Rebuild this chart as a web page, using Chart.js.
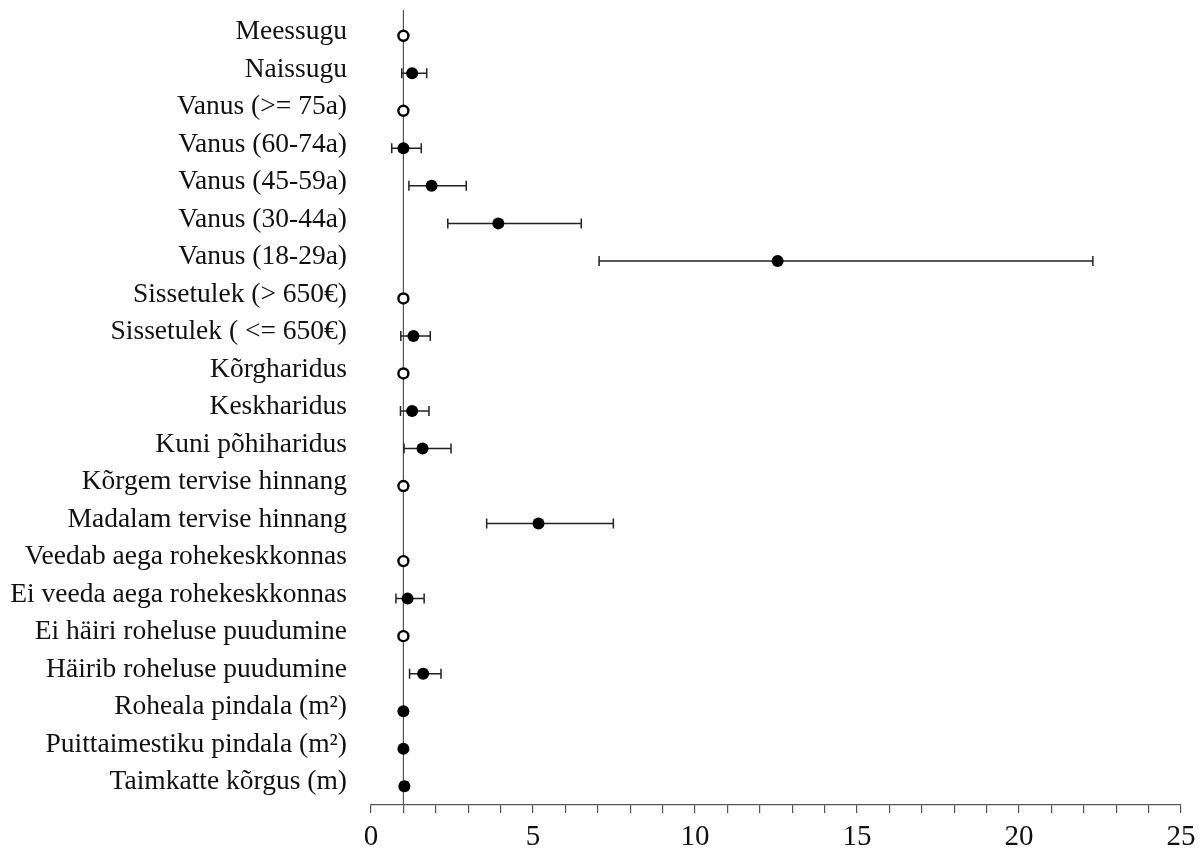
<!DOCTYPE html>
<html>
<head>
<meta charset="utf-8">
<script src="https://cdn.jsdelivr.net/npm/chart.js@4"></script>
<style>
  html, body { margin: 0; padding: 0; background: #fff; }
  #holder { width: 1203px; height: 850px; }
</style>
</head>
<body>
<div id="holder"><canvas id="myChart"></canvas></div>
<script>
// rows, top to bottom
const categories = [
    'Meessugu', 'Naissugu', 'Vanus (>= 75a)', 'Vanus (60-74a)', 'Vanus (45-59a)',
    'Vanus (30-44a)', 'Vanus (18-29a)', 'Sissetulek (> 650€)', 'Sissetulek ( <= 650€)',
    'Kõrgharidus', 'Keskharidus', 'Kuni põhiharidus', 'Kõrgem tervise hinnang',
    'Madalam tervise hinnang', 'Veedab aega rohekeskkonnas', 'Ei veeda aega rohekeskkonnas',
    'Ei häiri roheluse puudumine', 'Häirib roheluse puudumine', 'Roheala pindala (m²)',
    'Puittaimestiku pindala (m²)', 'Taimkatte kõrgus (m)'
];
const estimates = [1, 1.27, 1, 1.00, 1.87, 3.93, 12.55, 1, 1.31, 1, 1.27, 1.59, 1, 5.17, 1, 1.13, 1, 1.61, 1.00, 1.00, 1.03];
const lower =     [null, 0.95, null, 0.64, 1.17, 2.37, 7.04, null, 0.92, null, 0.91, 1.02, null, 3.57, null, 0.77, null, 1.19, 0.99, 0.99, 0.93];
const upper =     [null, 1.72, null, 1.55, 2.94, 6.49, 22.28, null, 1.83, null, 1.79, 2.47, null, 7.48, null, 1.64, null, 2.16, 1.01, 1.01, 1.13];
const isReference = [true, false, true, false, false, false, false, true, false, true, false, false, true, false, true, false, true, false, false, false, false];
const xTicks = [0, 5, 10, 15, 20, 25];
const refValue = 1;

const fontFamily = '"Liberation Serif", "Times New Roman", serif';

const refPoints = [];
const estPoints = [];
estimates.forEach((v, i) => {
    if (isReference[i]) refPoints.push({ x: v, y: i });
    else estPoints.push({ x: v, y: i });
});

// error bars + reference line, drawn before the points
const errorBars = {
    id: 'errorBars',
    beforeDatasetsDraw(chart) {
        const c = chart.ctx;
        const xs = chart.scales.x;
        const ys = chart.scales.y;
        const area = chart.chartArea;
        c.save();
        // vertical line at 1
        c.strokeStyle = '#555';
        c.lineWidth = 1.2;
        const rx = xs.getPixelForValue(refValue);
        c.beginPath();
        c.moveTo(rx, area.top - 7);
        c.lineTo(rx, area.bottom);
        c.stroke();

        c.strokeStyle = '#222';
        c.lineWidth = 1.5;
        for (let i = 0; i < estimates.length; i++) {
            if (lower[i] == null) continue;
            const y = ys.getPixelForValue(i);
            const x1 = xs.getPixelForValue(lower[i]);
            const x2 = xs.getPixelForValue(upper[i]);
            c.beginPath();
            c.moveTo(x1, y); c.lineTo(x2, y);
            c.moveTo(x1, y - 5); c.lineTo(x1, y + 5);
            c.moveTo(x2, y - 5); c.lineTo(x2, y + 5);
            c.stroke();
        }
        c.restore();
    }
};

const ctx = document.getElementById('myChart').getContext('2d');
const myChart = new Chart(ctx, {
    type: 'scatter',
    data: {
        datasets: [
            {
                label: 'Võrdlusgrupp',
                data: refPoints,
                pointRadius: 5,
                pointBorderWidth: 2.4,
                pointBackgroundColor: '#fff',
                pointBorderColor: '#000'
            },
            {
                label: 'OR',
                data: estPoints,
                pointRadius: 6,
                pointBorderWidth: 0,
                pointBackgroundColor: '#000',
                pointBorderColor: '#000'
            }
        ]
    },
    options: {
        responsive: true,
        maintainAspectRatio: false,
        animation: false,
        layout: { padding: { top: 17, right: 22, left: 0, bottom: 0 } },
        plugins: { legend: { display: false }, tooltip: { enabled: false } },
        scales: {
            x: {
                type: 'linear',
                min: 0,
                max: 25,
                afterFit: (scale) => { scale.height = 45; },
                afterBuildTicks: (scale) => {
                    scale.ticks = Array.from({ length: 26 }, (_, i) => ({ value: i }));
                },
                grid: { drawOnChartArea: false, drawTicks: true, tickLength: 8, color: '#555', lineWidth: 1.2 },
                border: { display: true, color: '#555', width: 1.2 },
                ticks: {
                    autoSkip: false,
                    maxRotation: 0,
                    padding: 7,
                    color: '#111',
                    font: { family: fontFamily, size: 29 },
                    callback: (v) => xTicks.includes(v) ? String(v) : ''
                }
            },
            y: {
                type: 'linear',
                min: -0.5,
                max: categories.length - 0.5,
                reverse: true,
                afterFit: (scale) => {
                    scale.width = 371;
                    scale.paddingTop = 0;
                    scale.paddingBottom = 0;
                },
                afterBuildTicks: (scale) => {
                    scale.ticks = categories.map((_, i) => ({ value: i }));
                },
                grid: { display: false },
                border: { display: false },
                ticks: {
                    autoSkip: false,
                    padding: 16,
                    labelOffset: -4,
                    color: '#111',
                    font: { family: fontFamily, size: 27.5 },
                    callback: (v) => categories[v]
                }
            }
        }
    },
    plugins: [errorBars]
});
</script>
</body>
</html>
